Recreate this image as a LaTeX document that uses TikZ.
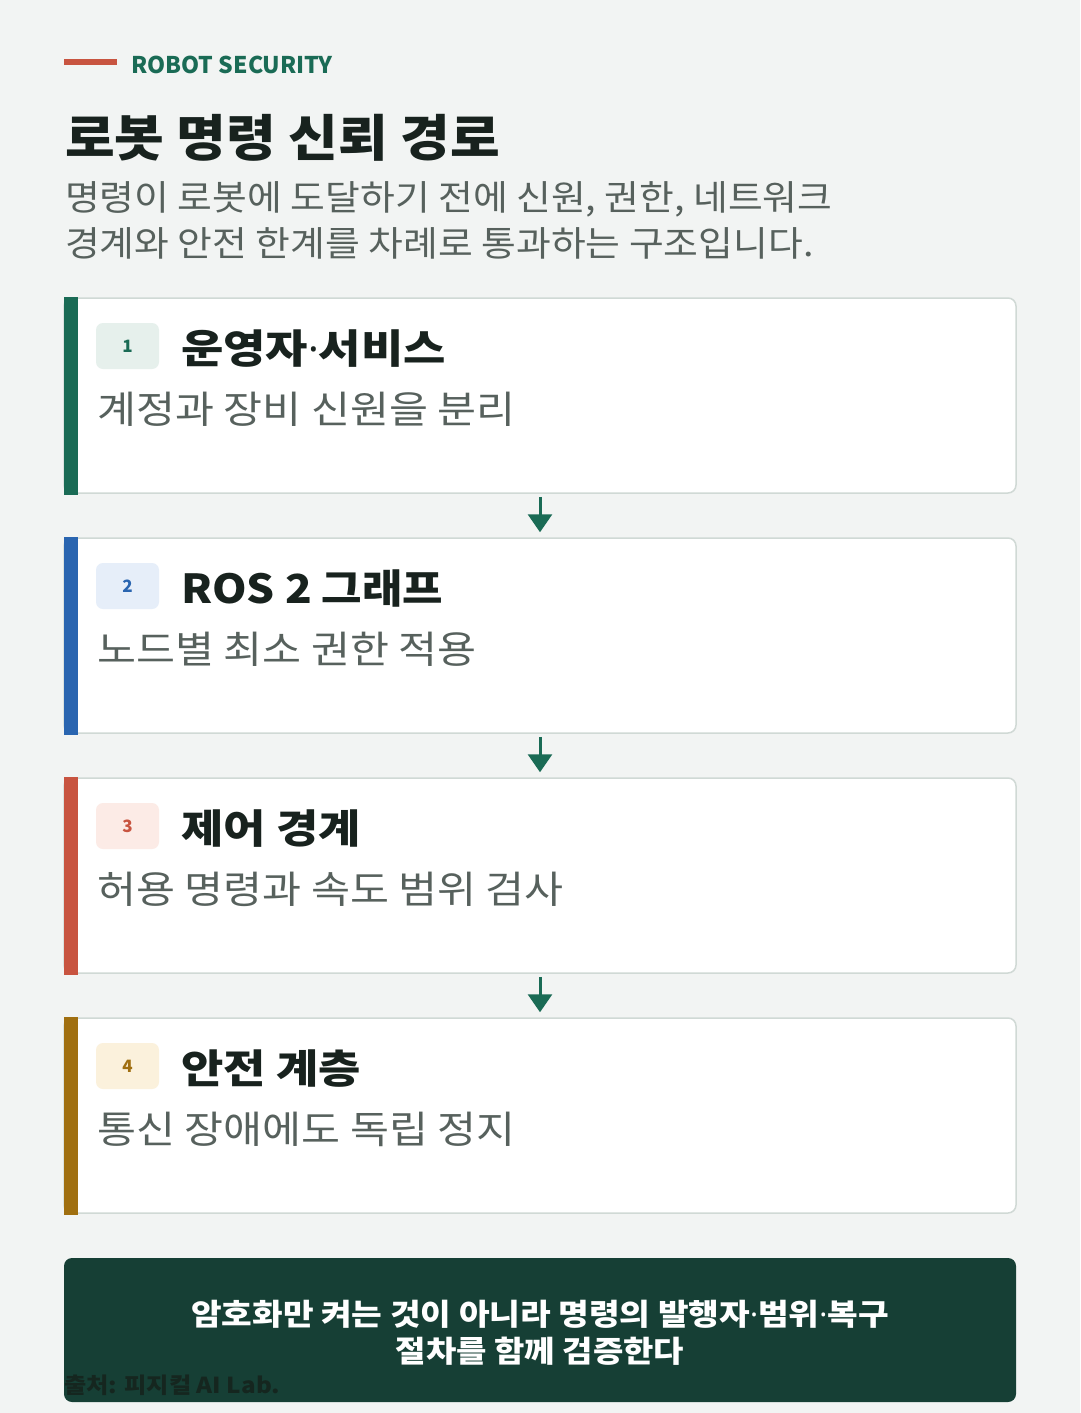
\documentclass[tikz,border=0pt]{standalone}
\usepackage{fontspec}
\setmainfont{Noto Sans CJK KR}
\newfontfamily\dotfont{Noto Sans}
\newcommand\mdot{{\dotfont ·}}
\usetikzlibrary{arrows.meta}
\definecolor{bg}{HTML}{F2F4F3}
\definecolor{cardline}{HTML}{D0D9D5}
\definecolor{ink}{HTML}{18221E}
\definecolor{muted}{HTML}{57615D}
\definecolor{accgreen}{HTML}{1A6B55}
\definecolor{accblue}{HTML}{2A65B0}
\definecolor{accred}{HTML}{C85440}
\definecolor{accgold}{HTML}{A06F10}
\definecolor{tintgreen}{HTML}{E6F0EC}
\definecolor{tintblue}{HTML}{E6EEF9}
\definecolor{tintred}{HTML}{FCEBE6}
\definecolor{tintgold}{HTML}{FBF1DC}
\definecolor{darkbox}{HTML}{163F35}
\definecolor{srcink}{HTML}{15261F}
\tikzset{
  card/.style={draw=cardline, fill=white, line width=1.5pt, rounded corners=8pt,
    minimum width=952pt, minimum height=195pt, inner sep=0pt},
  badge/.style={rounded corners=7pt, minimum width=63pt, minimum height=46pt, inner sep=0pt,
    font=\fontsize{17}{17}\selectfont\bfseries},
  ctitle/.style={anchor=base west, inner sep=0pt, text=ink,
    font=\fontsize{40}{40}\selectfont\bfseries\addfontfeature{FakeStretch=1.15}},
  csub/.style={anchor=base west, inner sep=0pt, text=muted,
    font=\fontsize{38}{38}\selectfont\addfontfeature{FakeStretch=1.115}},
  flow/.style={draw=accgreen, line width=3pt, -{Triangle[width=24pt,length=18pt]},
    shorten <=3pt, shorten >=5pt},
}
\begin{document}
\begin{tikzpicture}[x=1pt,y=-1pt]
\fill[bg] (0,0) rectangle (1080,1413);
\useasboundingbox (0,0) rectangle (1080,1413);
% header
\fill[accred] (64,59) rectangle (117,65);
\node[anchor=base west, inner sep=0pt, text=accgreen, font=\fontsize{23}{23}\selectfont\bfseries] (kicker) at (131,73.5) {ROBOT SECURITY};
\node[anchor=base west, inner sep=0pt, text=ink, font=\fontsize{50}{50}\selectfont\bfseries\addfontfeature{FakeStretch=1.08}] (title) at (65,156.5) {로봇 명령 신뢰 경로};
\node[anchor=base west, inner sep=0pt, text=muted, font=\fontsize{35}{35}\selectfont\addfontfeature{FakeStretch=1.08}] (lead1) at (65,210.5) {명령이 로봇에 도달하기 전에 신원, 권한, 네트워크};
\node[anchor=base west, inner sep=0pt, text=muted, font=\fontsize{35}{35}\selectfont\addfontfeature{FakeStretch=1.08}] (lead2) at (65,256.5) {경계와 안전 한계를 차례로 통과하는 구조입니다.};
% cards
\node[card] (c1) at (540,395.5) {};
\node[card] (c2) at (540,635.5) {};
\node[card] (c3) at (540,875.5) {};
\node[card] (c4) at (540,1115.5) {};
\fill[accgreen] ([xshift=0.5pt,yshift=0.75pt]c1.north west) rectangle ([xshift=14.5pt,yshift=-0.75pt]c1.south west);
\fill[accblue] ([xshift=0.5pt,yshift=0.75pt]c2.north west) rectangle ([xshift=14.5pt,yshift=-0.75pt]c2.south west);
\fill[accred] ([xshift=0.5pt,yshift=0.75pt]c3.north west) rectangle ([xshift=14.5pt,yshift=-0.75pt]c3.south west);
\fill[accgold] ([xshift=0.5pt,yshift=0.75pt]c4.north west) rectangle ([xshift=14.5pt,yshift=-0.75pt]c4.south west);
% badges
\node[badge, fill=tintgreen, text=accgreen] (b1) at (127.5,346) {1};
\node[badge, fill=tintblue, text=accblue] (b2) at (127.5,586) {2};
\node[badge, fill=tintred, text=accred] (b3) at (127.5,826) {3};
\node[badge, fill=tintgold, text=accgold] (b4) at (127.5,1066) {4};
% titles
\node[ctitle] (t1) at (181,363) {운영자\mdot 서비스};
\node[ctitle, font=\fontsize{40}{40}\selectfont\bfseries\addfontfeature{FakeStretch=1.1}] (t2) at (181,603) {ROS 2 그래프};
\node[ctitle] (t3) at (181,843) {제어 경계};
\node[ctitle] (t4) at (181,1083) {안전 계층};
% subtitles
\node[csub] (s1) at (97,423) {계정과 장비 신원을 분리};
\node[csub] (s2) at (97,663) {노드별 최소 권한 적용};
\node[csub] (s3) at (97,903) {허용 명령과 속도 범위 검사};
\node[csub] (s4) at (97,1143) {통신 장애에도 독립 정지};
% arrows
\draw[flow] (c1.south) -- (c2.north);
\draw[flow] (c2.south) -- (c3.north);
\draw[flow] (c3.south) -- (c4.north);
% bottom note
\node[fill=darkbox, rounded corners=8pt, minimum width=952pt, minimum height=144pt, inner sep=0pt] (note) at (540,1330) {};
\node[anchor=base, inner sep=0pt, text=white, font=\fontsize{30}{30}\selectfont\bfseries\addfontfeature{FakeStretch=1.11}] (m1) at (540,1325) {암호화만 켜는 것이 아니라 명령의 발행자\mdot 범위\mdot 복구};
\node[anchor=base, inner sep=0pt, text=white, font=\fontsize{30}{30}\selectfont\bfseries\addfontfeature{FakeStretch=1.1}] (m2) at (540,1362) {절차를 함께 검증한다};
\node[anchor=base west, inner sep=0pt, text=srcink, font=\fontsize{22}{22}\selectfont\bfseries\addfontfeature{FakeStretch=1.1}] (src) at (64,1393) {출처: 피지컬 AI Lab.};
\end{tikzpicture}
\end{document}
